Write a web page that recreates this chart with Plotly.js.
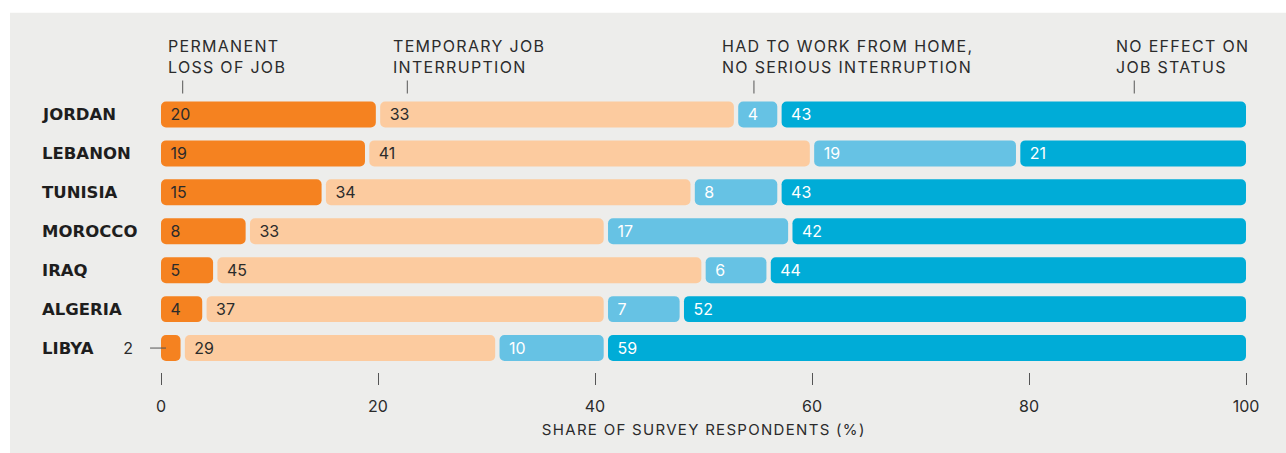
<!DOCTYPE html>
<html>
<head>
<meta charset="utf-8">
<script src="https://cdn.plot.ly/plotly-3.0.1.min.js"></script>
<style>
html,body{margin:0;padding:0;background:#fff;}
#chart{width:1286px;height:453px;}
#chart .annotation-text{letter-spacing:1.3px;}
#chart g.annotation.cat-label .annotation-text{letter-spacing:0;}
</style>
</head>
<body>
<div id="chart"></div>
<script>
const countries = ["JORDAN", "LEBANON", "TUNISIA", "MOROCCO", "IRAQ", "ALGERIA", "LIBYA"];
const seriesNames = ["PERMANENT<br>LOSS OF JOB", "TEMPORARY JOB<br>INTERRUPTION", "HAD TO WORK FROM HOME,<br>NO SERIOUS INTERRUPTION", "NO EFFECT ON<br>JOB STATUS"];
const permanentLoss = [20, 19, 15, 8, 5, 4, 2];
const temporaryInterruption = [33, 41, 34, 33, 45, 37, 29];
const workFromHome = [4, 19, 8, 17, 6, 7, 10];
const noEffect = [43, 21, 43, 42, 44, 52, 59];
const xTickVals = [0, 20, 40, 60, 80, 100];
const xTitle = "SHARE OF SURVEY RESPONDENTS (%)";

const BG = "#ededeb";
const colors = ["#f58220", "#fccb9f", "#66c2e4", "#00acd7"];
const textColors = ["#2b2b2b", "#2b2b2b", "#ffffff", "#ffffff"];
const FONT = "Inter, 'Noto Sans', sans-serif";
const LABEL_FONT = "'DejaVu Sans', Inter, sans-serif";
const series = [permanentLoss, temporaryInterruption, workFromHome, noEffect];
const GAP = 0.2; // half of the visual gap between segments, in axis units
const RADIUS = 5;

const traces = [];
const cum = countries.map(() => 0);
series.forEach((vals, i) => {
  const s0 = [], len = [];
  vals.forEach((v, k) => {
    const a = cum[k], b = cum[k] + v;
    const a2 = a > 0 ? a + GAP : a;
    const b2 = b < 100 ? b - GAP : b;
    s0.push(a2);
    len.push(b2 - a2);
    cum[k] = b;
  });
  traces.push({
    type: "bar", orientation: "h", y: countries, base: s0, x: len,
    name: seriesNames[i],
    marker: {color: colors[i], cornerradius: RADIUS, line: {width: 0}},
    text: vals.map(v => v >= 4 ? "\u00a0" + v : ""),
    textposition: "inside", insidetextanchor: "start", textangle: 0, constraintext: "none",
    textfont: {family: FONT, size: 16, color: textColors[i]},
    hoverinfo: "skip"
  });
});

const annotations = [];
countries.forEach(c => annotations.push({
  xref: "paper", yref: "y", x: -0.1115, y: c, xanchor: "left", yanchor: "middle",
  text: "<b>" + c + "</b>", showarrow: false, name: "cat",
  font: {family: LABEL_FONT, size: 16.5, color: "#1e1e1e"}
}));
const headerX = [0.46, 21.2, 51.5, 87.8];
const headerTick = [2.0, 22.7, 54.65, 89.7];
seriesNames.forEach((n, i) => annotations.push({
  xref: "x", yref: "paper", x: headerX[i], y: 1.1387, xanchor: "left", yanchor: "middle",
  text: n, showarrow: false, align: "left",
  font: {family: FONT, size: 16, color: "#2b2b2b"}
}));
const li = countries.length - 1;
annotations.push({
  xref: "paper", yref: "y", x: -0.0235, y: countries[li], xanchor: "right", yanchor: "middle",
  text: String(permanentLoss[li]), showarrow: false,
  font: {family: FONT, size: 16, color: "#2b2b2b"}
});
annotations.push({
  xref: "paper", yref: "paper", x: 0.5, y: -0.209, xanchor: "center", yanchor: "middle",
  text: xTitle, showarrow: false,
  font: {family: FONT, size: 15, color: "#2b2b2b"}
});

const shapes = [{
  type: "rect", xref: "paper", yref: "paper", x0: -0.1392, x1: 1.05, y0: -0.35, y1: 1.2973,
  fillcolor: BG, line: {width: 0}, layer: "below"
}];
headerTick.forEach(x => shapes.push({
  type: "line", xref: "x", yref: "paper", x0: x, x1: x, y0: 1.0054, y1: 1.0523,
  line: {color: "#555", width: 1}
}));
shapes.push({
  type: "line", xref: "paper", yref: "y", x0: -0.0101, x1: 0.0046, y0: countries[li], y1: countries[li],
  line: {color: "#555", width: 1}
});

const layout = {
  width: 1286, height: 453,
  margin: {l: 161, r: 40, t: 94.5, b: 81, pad: 0},
  paper_bgcolor: "#ffffff", plot_bgcolor: "rgba(0,0,0,0)",
  barmode: "overlay", bargap: 0.333, showlegend: false,
  font: {family: FONT, size: 16, color: "#2b2b2b"},
  xaxis: {
    range: [0, 100], tickvals: xTickVals, ticktext: xTickVals.map(String),
    showgrid: false, zeroline: false, showline: false,
    ticks: "outside", ticklen: 12, tickwidth: 1, tickcolor: "#555", ticklabelstandoff: 8,
    tickfont: {family: FONT, size: 16, color: "#2b2b2b"}, fixedrange: true
  },
  yaxis: {
    type: "category", range: [6.615, -0.5], showticklabels: false,
    showgrid: false, zeroline: false, showline: false, ticks: "", fixedrange: true
  },
  annotations: annotations,
  shapes: shapes
};

Plotly.newPlot("chart", traces, layout, {displayModeBar: false, staticPlot: true}).then(gd => {
  gd.querySelectorAll("g.annotation").forEach(g => {
    const idx = +g.getAttribute("data-index");
    if (idx < countries.length) g.classList.add("cat-label");
  });
});
</script>
</body>
</html>
